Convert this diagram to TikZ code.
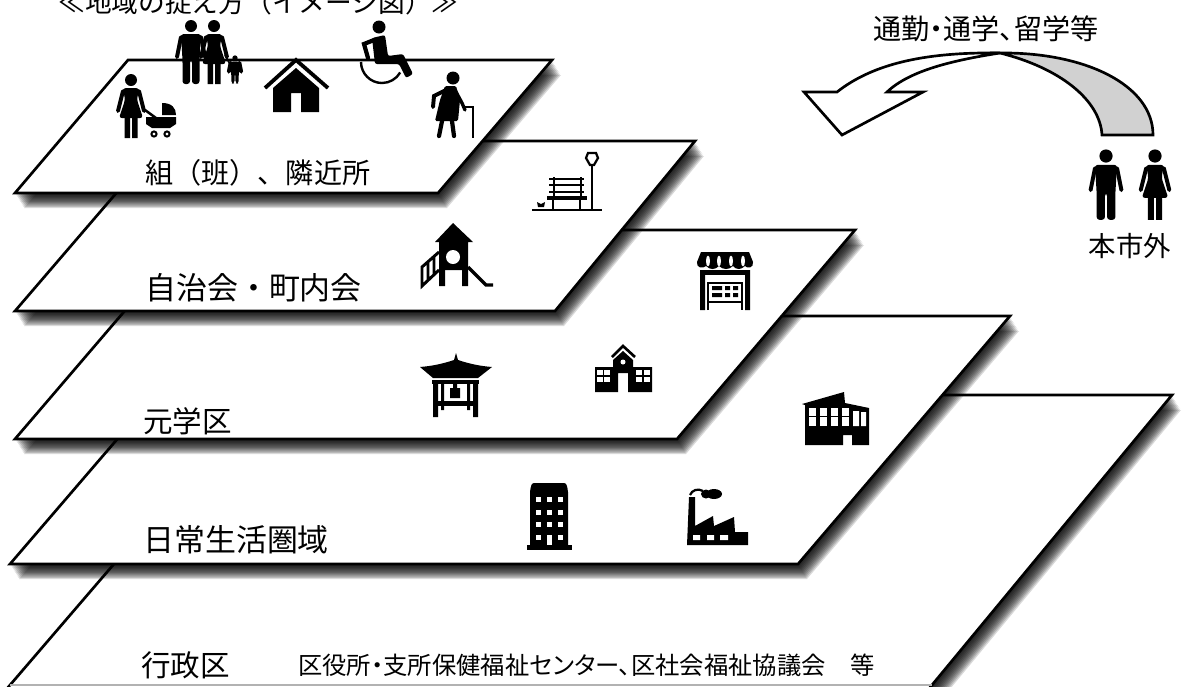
\documentclass[tikz,border=0pt]{standalone}
\usepackage{fontspec}
\setmainfont{Noto Sans CJK JP}
\newfontfamily\proportional{Noto Sans CJK JP}[RawFeature=+palt]
\usetikzlibrary{positioning, calc}

% one floor of the map, soft shadow stacked underneath
\newcommand{\floorplate}[4]{%
    \foreach \s in {1,...,12} {
        \fill[black, opacity=0.15, shift={(0.75*\s,1.25*\s)}] (#1) -- (#2) -- (#3) -- (#4) -- cycle;
    }
    \draw[plate] (#1) -- (#2) -- (#3) -- (#4) -- cycle;
}

\tikzset{
    plate/.style={draw=black, fill=white, line width=1.9pt, line join=miter},
    thick line/.style={draw=black, line width=#1, line cap=round},
    label/.style={anchor=west, inner sep=0pt, font=\fontsize{22}{26}\selectfont},
    small label/.style={anchor=west, inner sep=0pt, font=\proportional\fontsize{17.3}{20}\selectfont},
    woman/.pic={
        \fill (0,0) circle (6);
        \fill[rounded corners=2] (-8,8) -- (8,8) -- (6,20) -- (12,38) -- (-12,38) -- (-6,20) -- cycle;
        \draw[thick line=2.8pt] (-8,11) -- (-13,31) (8,11) -- (13,31);
        \fill (-6.5,38) rectangle (-1,58) (1,38) rectangle (6.5,58);
    },
    man/.pic={
        \fill (0,0) circle (6);
        \fill[rounded corners=2] (-10,8) -- (10,8) -- (8.5,34) -- (8.5,58) -- (1,58) -- (1,34) -- (-1,34) -- (-1,58) -- (-8.5,58) -- (-8.5,34) -- cycle;
        \draw[thick line=2.8pt] (-10,11) -- (-14,31) (10,11) -- (14,31);
    }
}

\begin{document}
\begin{tikzpicture}[x=0.025cm, y=-0.025cm]
    \clip (0,0) rectangle (1182,686);
    \fill[white] (0,0) rectangle (1182,686);

    % floors, lowest first; the last one runs off the page
    \floorplate{259,395}{1172,395}{903,720}{-20,720}
    \draw[black!30, line width=0.8pt] (10,685) -- (932,685);
    \floorplate{223,316}{1010,316}{798,564}{10,564}
    \floorplate{194,230}{855,230}{677,439}{15,439}
    \floorplate{161,141}{695,141}{555,311}{15,311}
    \floorplate{128,60}{552,60}{438,193}{15,193}

    % texts
    \node[label, font=\fontsize{19}{24}\selectfont] (title) at (58,2) {≪地域の捉え方（イメージ図）≫};
    \node[label, font=\fontsize{20}{24}\selectfont] (kumi) at (145,173) {組（班）、隣近所};
    \node[label] (jichikai) at (145,288) {自治会・町内会};
    \node[label, font=\fontsize{21}{24}\selectfont] (gakku) at (143,421) {元学区};
    \node[label] (nichijo) at (143,540) {日常生活圏域};
    \node[label, font=\fontsize{21}{24}\selectfont] (gyosei) at (141,665) {行政区};
    \node[small label] (kuyakusho) at (298,665) {区役所・支所保健福祉センター、区社会福祉協議会　等};
    \node[small label, anchor=center, font=\proportional\fontsize{20}{24}\selectfont] (commute) at (986,29) {通勤・通学、留学等};
    \node[label, anchor=center, font=\fontsize{19.5}{24}\selectfont] (outside) at (1130,246) {本市外};

    % arrow from outside the city
    \draw[line width=1.9pt, fill=black!18, line join=miter] (1000,53) .. controls (1085,52) and (1153,85) .. (1153,135)
        -- (1102,135) .. controls (1100,100) and (1060,68) .. (1000,53) -- cycle;
    \draw[line width=1.9pt, fill=white, line join=miter] (1000,53) .. controls (930,52) and (875,62) .. (837,92)
        -- (804,92) -- (842,135) -- (923,92) -- (887,92) .. controls (910,70) and (955,60) .. (1000,53) -- cycle;
    \pic at (1106,156) [scale=1.1] {man};
    \pic at (1155,156) [scale=1.1] {woman};

    % family on the top floor
    \pic at (191,26) {man};
    \pic at (214,26) {woman};
    \pic at (235,58) [scale=0.44] {man};
    \draw[thick line=1.2pt] (225,55) -- (231,66);

    % mother and pram
    \pic at (131,80) {woman};
    \draw[thick line=1.8pt] (145,110) -- (156,118);
    \fill (146,117) -- (176,117) -- (176,124) -- (170,128) -- (152,128) -- (146,124) -- cycle;
    \fill (162,103) .. controls (172,103) and (176,108) .. (176,115) -- (162,115) -- cycle;
    \draw[line width=1.4pt] (154,134) circle (2.6) (167,134) circle (2.6);

    % house
    \draw[line width=2.7pt, line join=miter, miter limit=4] (265,88) -- (296,60) -- (328,88);
    \fill (296,68) -- (319,88) -- (319,112) -- (301,112) -- (301,93) -- (291,93) -- (291,112) -- (273,112) -- (273,88) -- cycle;

    % wheelchair
    \fill (379,27) circle (6.5);
    \fill[rounded corners=1.5] (372,38) -- (385,35) -- (388,56) -- (403,54) -- (413,74) -- (406,78) -- (399,64) -- (375,64) -- cycle;
    \draw[thick line=3pt] (374,40) -- (364,44) -- (368,58);
    \draw[line width=1.7pt] (361,62) arc[start angle=180, end angle=30, radius=21];

    % elderly woman with cane
    \fill (453,78) circle (6.5);
    \fill[rounded corners=1] (445,86) -- (456,86) -- (460,100) -- (458,121) -- (435,121) -- (440,100) -- cycle;
    \draw[thick line=2.8pt] (446,90) -- (434,96) -- (433,107);
    \draw[thick line=2.4pt] (455,90) -- (462,103) -- (465,110);
    \draw[thick line=3pt] (442,121) -- (439,136) (452,121) -- (454,136);
    \draw[line width=1.8pt] (465,107) -- (473,107) -- (473,138);

    % park bench and lamp
    \draw[line width=1.8pt] (532,210) -- (602,210) (592,210) -- (592,165);
    \draw[line width=1.6pt] (588,153) -- (596,153) -- (598,158) -- (594,165) -- (590,165) -- (586,158) -- cycle;
    \draw[line width=2.4pt] (547,198) -- (587,198);
    \draw[line width=2pt] (553,198) -- (553,210) (580,198) -- (580,210) (554,177) -- (554,197) (581,177) -- (581,197);
    \draw[line width=1.8pt] (549,179) -- (584,179) (549,185) -- (584,185) (549,192) -- (584,192);
    \fill (537,202) -- (541,204) -- (545,202) -- (544,207) -- (538,207) -- cycle;

    % playground
    \fill (453,223) -- (473,242) -- (468,242) -- (468,270) -- (439,270) -- (439,242) -- (435,242) -- cycle;
    \fill[white] (453,257) circle (7);
    \fill (439,268) rectangle (445,286) (462,268) rectangle (468,286);
    \draw[line width=2.4pt] (468,267) -- (486,285) -- (493,285);
    \draw[line width=2.1pt] (439,252) -- (422,267) -- (422,286) -- (439,270) (428,262) -- (428,281) (434,257) -- (434,275);

    % shop
    \fill (701,252) -- (749,252) -- (753,262) .. controls (754,268) and (747,269) .. (745,266)
        .. controls (741,270) and (736,270) .. (733,266) .. controls (729,270) and (723,270) .. (719,266)
        .. controls (715,270) and (710,270) .. (706,266) .. controls (703,269) and (696,268) .. (697,262) -- cycle;
    \foreach \sx in {708,719,731,743} {
        \fill[white] (\sx,261) ellipse (2 and 5.5);
    }
    \fill (700,270) rectangle (750,275);
    \fill (700,270) rectangle (705,310) (745,270) rectangle (750,310);
    \draw[line width=1.6pt] (708,310) -- (708,283) -- (742,283) -- (742,310) (708,302) -- (742,302);
    \fill (712,286) rectangle (722,290) (712,293) rectangle (722,297) (725,286) rectangle (730,290) (733,286) rectangle (738,290) (725,293) rectangle (730,297) (733,293) rectangle (738,297);

    % bell tower
    \fill (456,353) -- (458,360) .. controls (470,364) and (480,366) .. (492,367) -- (478,378) -- (433,378) -- (420,367) .. controls (432,366) and (442,364) .. (454,360) -- cycle;
    \fill (432,380) rectangle (479,384);
    \fill (433,380) rectangle (438,417) (473,380) rectangle (478,417);
    \fill (441,380) rectangle (444,410) (467,380) rectangle (470,410);
    \fill (433,401) rectangle (478,406);
    \fill (450,388) rectangle (460,398) (453,383) rectangle (457,389);

    % school
    \draw[line width=1.9pt] (612,357) -- (623,346) -- (635,357);
    \fill (623,351) -- (633,360) -- (633,367) -- (652,367) -- (652,392) -- (628,392) -- (628,373) -- (618,373) -- (618,392) -- (595,392) -- (595,367) -- (613,367) -- (613,360) -- cycle;
    \foreach \wx in {597,604,636,644} {
        \foreach \wy in {370,377} {
            \fill[white] (\wx,\wy) rectangle ++(5.5,5);
        }
    }
    \fill[white] (623,362) circle (2.5);

    % factory with sloped roof
    \fill (802,404) -- (844,392) -- (845,403) -- (869,408) -- (869,445) -- (852,445) -- (852,435) -- (843,435) -- (843,445) -- (805,445) -- (805,405) -- cycle;
    \foreach \fx in {809,820,831,842} {
        \fill[white] (\fx,408) rectangle ++(7,7.5);
        \fill[white] (\fx,417) rectangle ++(7,9);
    }
    \fill[white] (853,411) rectangle ++(6,15) (861,412) rectangle ++(5,14);

    % office block
    \fill[rounded corners=1.5] (532,483) -- (566,483) -- (568,490) -- (568,547) -- (530,547) -- (530,490) -- cycle;
    \fill (527,545) rectangle (572,550);
    \foreach \ox in {536,547,558} {
        \foreach \oy in {497,510,522,535} {
            \fill[white] (\ox,\oy) rectangle ++(5,5);
        }
    }
    \fill[white] (547,536) rectangle (552,545);

    % factory with chimney
    \fill (689,497) -- (695,497) -- (695,526) -- (713,516) -- (714,526) -- (734,517) -- (735,532) -- (748,532) -- (748,545) -- (687,545) -- cycle;
    \fill[white] (693,535) rectangle (700,540) (707,535) rectangle (714,540) (720,535) rectangle (728,540);
    \draw[line width=1.6pt] (690,495) .. controls (692,490) and (698,488) .. (703,491);
    \fill (706,494) ellipse (5 and 4.5) (714,494) ellipse (8 and 5);
\end{tikzpicture}
\end{document}
